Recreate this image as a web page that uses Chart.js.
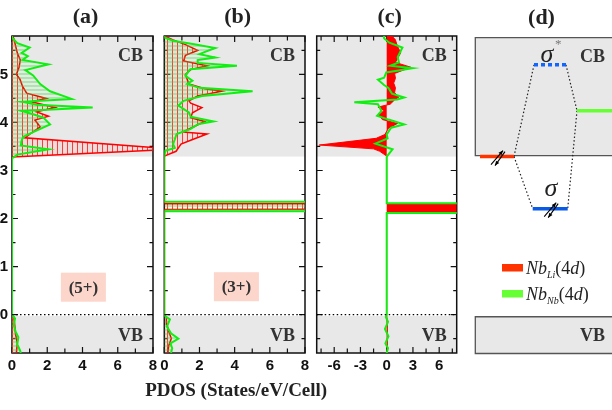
<!DOCTYPE html>
<html><head><meta charset="utf-8">
<script src="https://cdn.jsdelivr.net/npm/chart.js@4/dist/chart.umd.min.js"></script>
<style>
html,body{margin:0;padding:0;background:#fff;overflow:hidden;}
body{width:612px;height:410px;position:relative;}
canvas{position:absolute;left:0;top:0;}
</style></head><body>
<canvas id="panelA" width="612" height="410"></canvas>
<canvas id="panelB" width="612" height="410"></canvas>
<canvas id="panelC" width="612" height="410"></canvas>
<canvas id="panelD" width="612" height="410"></canvas>
<script>
// ---------------- data ----------------
const energyMin = -0.8, energyMax = 5.8;
const yTickValues = [0, 1, 2, 3, 4, 5];
const yMinorValues = [-0.5, 0.5, 1.5, 2.5, 3.5, 4.5, 5.5];
const abTickValues = [0, 2, 4, 6, 8];
const abMinorValues = [1, 3, 5, 7];
const cTickValues = [-6, -3, 0, 3, 6];
const cMinorValues = [-7.5, -4.5, -1.5, 1.5, 4.5, 7.5];
const cbBottom = 3.29, vbTop = -0.03, fermiLevel = 0;
const panelTitles = ['(a)', '(b)', '(c)', '(d)'];
const chargeLabels = ['(5+)', '(3+)'];
const seriesNames = ['Nb_Li(4d)', 'Nb_Nb(4d)'];
const xAxisTitle = 'PDOS (States/eV/Cell)';

// panel (a): energy (eV) / PDOS
const aRedE = [-0.8,-0.6,-0.4,-0.2,-0.05,0, 3.28,3.43,3.46,3.68,3.78,3.91,4.05,4.13,4.22,4.31, 4.43,4.50,4.61,4.75,4.90,5.0,5.15,5.30,5.45,5.6,5.75,5.8];
const aRedD = [0.25,0.3,0.2,0.15,0.1,0, 0,8.6,8.6,0.74,1.1,1.6,1.3,2.07,1.4,2.44, 1.1,1.95,0.83,0.6,0.45,0.25,0.4,0.47,0.3,0.2,0.1,0];
const aGreenE = [-0.8,-0.74,-0.62,-0.47,-0.35,-0.22,-0.08,-0.02,0, 3.25,3.33,3.44,3.52,3.63,3.70,3.80,3.96,4.10,4.17, 4.24,4.31,4.37,4.43,4.49,4.65,4.80,4.98,5.09,5.21, 5.30,5.38,5.45,5.56,5.65,5.75,5.8];
const aGreenD = [0.5,0.45,0.3,0.36,0.2,0.1,0.17,0.05,0, 0,0.3,2.07,0.5,0.55,0.64,1.2,2.16,1.78,1.2, 0.55,4.58,1.4,0.6,3.39,2.16,1.6,1.2,0.76,2.06, 0.6,0.9,0.55,1.0,0.3,0.05,0];

// panel (b)
const bRedE = [-0.8,-0.65,-0.5,-0.35,-0.2,-0.05,0, 2.19,2.195,2.305,2.31, 3.30,3.40,3.55,3.63,3.76,3.80,3.88,4.02,4.10,4.20, 4.31,4.40,4.45,4.55,4.65,4.70,4.80,5.0,5.10,5.18, 5.28,5.40,5.50,5.62,5.72,5.8];
const bRedD = [0.2,0.25,0.4,0.25,0.15,0.12,0, 0,30,30,0, 0,0.67,0.95,1.5,2.43,1.05,1.5,2.3,1.5,1.6, 2.14,1.5,1.4,1.9,3.28,2.3,1.4,1.2,1.5,2.43, 1.1,1.2,1.9,1.2,0.5,0];
const bGreenE = [-0.8,-0.7,-0.6,-0.5,-0.39,-0.25,-0.1,-0.03,0, 2.15,2.155,2.345,2.35, 3.28,3.41,3.47,3.55,3.65,3.76,3.86,3.96,4.02,4.12, 4.21,4.35,4.45,4.55,4.65,4.72,4.80,4.87,4.97,5.11, 5.18,5.24,5.30,5.35,5.42,5.46,5.55,5.63,5.70,5.77, 5.8];
const bGreenD = [0.38,0.45,0.35,0.8,0.38,0.15,0.32,0.04,0, 0,30,30,0, 0,0.05,0.6,0.5,0.6,0.7,1.48,1.9,2.8,1.5, 1.4,0.8,1.1,2.14,5.02,2.0,1.3,1.6,1.2,1.48, 4.13,1.9,1.9,2.9,2.0,2.24,2.9,1.7,0.5,0, 0];

// panel (c)
const cRedE = [-0.8,-0.5,-0.2,0, 2.125,2.13,2.305,2.31, 3.30,3.40,3.45,3.53,3.67,3.75,3.88,3.98,4.06,4.15, 4.25,4.32,4.38,4.47,4.53,4.62,4.72,4.82,4.92,5.02, 5.15,5.25,5.45,5.60,5.72,5.8];
const cRedD = [0.05,0.1,0.05,0, 0,30,30,0, 0,-0.8,-1.5,-7.7,-1.2,-0.2,0.2,1.24,-0.5,-0.9, -0.3,-1.0,0.4,0.9,1.4,0.9,1.0,0.8,1.0,0.9, 2.76,1.0,1.6,1.2,1.0,0.6];
const cGreenE = [-0.8,-0.7,-0.6,-0.45,-0.3,-0.15,-0.05,0, 2.115,2.12,2.315,2.32, 3.28,3.30,3.44,3.56,3.67,3.75,3.89,3.96,4.06,4.14, 4.24,4.38,4.42,4.48,4.52,4.60,4.72,4.78,4.89,4.93, 5.04,5.13,5.18,5.25,5.36,5.45,5.56,5.66,5.75,5.8];
const cGreenD = [0,0.15,-0.15,0.2,-0.2,0.15,-0.1,0, 0,30,30,0, 0,0.05,0.67,-1.3,0.1,0,0.5,2.0,0.2,-1.1, -0.6,-1.0,-3.7,1.2,2.0,0.6,0.2,-0.3,-1.0,-0.3, -0.05,2.95,0.4,1.4,1.25,1.5,1.8,0.3,-0.3,-0.3];

// panel (d): energy-level scheme
const levelNames = ['NbLi', 'sigmaStar', 'NbNb', 'sigma'];
const levelEnergy = [3.29, 5.20, 4.245, 2.205];
const levelStart = [0.47, 5.87, 10.17, 5.74];
const levelEnd = [3.87, 9.07, 14.5, 9.24];
const levelLinks = [[0,'end',1,'start'], [0,'end',3,'start'], [1,'end',2,'start'], [2,'start',3,'end']];
const dCbBox = [3.31, 5.765];
const dVbBox = [-0.81, -0.045];

// ---------------- styling helpers ----------------
const SERIF = '"Liberation Serif", "Times New Roman", serif';
const SANS = '"Liberation Sans", Arial, sans-serif';
const RED = '#ff0000', GREEN = '#11ee11';

function pts(E, D) { return E.map((e, i) => ({ x: D[i], y: e })); }

function hatch(dir, color, gap, lw, bg) {
  const c = document.createElement('canvas');
  c.width = gap; c.height = gap;
  const g = c.getContext('2d');
  if (bg) { g.fillStyle = bg; g.fillRect(0, 0, gap, gap); }
  g.strokeStyle = color; g.lineWidth = lw;
  g.beginPath();
  if (dir === 'v') { g.moveTo(gap / 2, 0); g.lineTo(gap / 2, gap); }
  else { g.moveTo(0, gap / 2); g.lineTo(gap, gap / 2); }
  g.stroke();
  return g.createPattern(c, 'repeat');
}
const redHatch = hatch('v', 'rgba(255,30,30,0.85)', 5, 1, 'rgba(255,170,170,0.18)');
const greenHatch = hatch('h', 'rgba(40,225,40,0.55)', 4, 1.2, null);

function drawFrameTicks(chart, xMajor, xMinor) {
  const { ctx, chartArea: a, scales: { x, y } } = chart;
  ctx.save();
  ctx.strokeStyle = '#111';
  ctx.lineWidth = 1.2;
  ctx.beginPath();
  const tx = (vals, len) => vals.forEach(v => {
    const p = x.getPixelForValue(v);
    ctx.moveTo(p, a.bottom); ctx.lineTo(p, a.bottom - len);
    ctx.moveTo(p, a.top); ctx.lineTo(p, a.top + len);
  });
  const ty = (vals, len) => vals.forEach(v => {
    const p = y.getPixelForValue(v);
    ctx.moveTo(a.left, p); ctx.lineTo(a.left + len, p);
    ctx.moveTo(a.right, p); ctx.lineTo(a.right - len, p);
  });
  tx(xMajor, 6); tx(xMinor, 4.5); ty(yTickValues, 6); ty(yMinorValues, 3.5);
  ctx.stroke();
  ctx.lineWidth = 1.5;
  ctx.strokeRect(a.left, a.top, a.right - a.left, a.bottom - a.top);
  ctx.restore();
}

function pdosDeco(p) {
  return {
    id: 'deco' + p.id,
    beforeDatasetsDraw(chart) {
      const { ctx, chartArea: a, scales: { x, y } } = chart;
      ctx.save();
      ctx.fillStyle = '#e8e8e8';
      const yCb = y.getPixelForValue(cbBottom);
      ctx.fillRect(a.left, a.top, a.right - a.left, yCb - a.top);
      const yVb = y.getPixelForValue(vbTop);
      ctx.fillRect(a.left, yVb, a.right - a.left, a.bottom - yVb);
      if (p.charge) {
        const cx = x.getPixelForValue(p.chargeAt[0]);
        const cy = y.getPixelForValue(p.chargeAt[1]);
        ctx.fillStyle = '#fcd5cb';
        ctx.fillRect(cx - 22.5, cy - 14.5, 45, 29);
        ctx.fillStyle = '#333';
        ctx.font = 'bold 17px ' + SERIF;
        ctx.textAlign = 'center'; ctx.textBaseline = 'middle';
        ctx.fillText(p.charge, cx, cy + 1);
      }
      ctx.restore();
      drawFrameTicks(chart, p.major, p.minor);
    },
    afterDatasetsDraw(chart) {
      const { ctx, chartArea: a } = chart;
      ctx.save();
      ctx.fillStyle = '#333';
      ctx.font = 'bold 18px ' + SERIF;
      ctx.textAlign = 'right'; ctx.textBaseline = 'middle';
      ctx.fillText('CB', a.right - 10, a.top + 20);
      ctx.fillText('VB', a.right - 10, a.bottom - 17);
      ctx.fillStyle = '#222';
      ctx.font = 'bold 22px ' + SERIF;
      ctx.textAlign = 'center';
      ctx.fillText(p.title, (a.left + a.right) / 2 + 3, 17);
      if (p.axisTitle) {
        ctx.font = 'bold 19px ' + SERIF;
        ctx.fillText(xAxisTitle, (a.left + a.right) / 2 + 1.5, a.bottom + 38);
      }
      ctx.restore();
    }
  };
}

const panels = [
  { id: 'panelA', left: 12, right: 153, xMin: 0, xMax: 8, major: abTickValues, minor: abMinorValues,
    title: panelTitles[0], charge: chargeLabels[0], chargeAt: [4.05, 0.57], showY: true, axisTitle: false,
    red: pts(aRedE, aRedD), green: pts(aGreenE, aGreenD), solid: false },
  { id: 'panelB', left: 164.3, right: 305, xMin: 0, xMax: 8, major: abTickValues, minor: abMinorValues,
    title: panelTitles[1], charge: chargeLabels[1], chargeAt: [4.1, 0.58], showY: false, axisTitle: true,
    red: pts(bRedE, bRedD), green: pts(bGreenE, bGreenD), solid: false },
  { id: 'panelC', left: 316.7, right: 456.7, xMin: -8, xMax: 8, major: cTickValues, minor: cMinorValues,
    title: panelTitles[2], charge: null, showY: false, axisTitle: false,
    red: pts(cRedE, cRedD), green: pts(cGreenE, cGreenD), solid: true }
];

panels.forEach(p => {
  new Chart(document.getElementById(p.id), {
    type: 'line',
    data: {
      datasets: [
        { label: seriesNames[0], data: p.red, borderColor: RED, borderWidth: p.solid ? 1 : 1.5,
          backgroundColor: p.solid ? RED : redHatch, fill: 'origin', pointRadius: 0, tension: 0, order: 2 },
        { label: seriesNames[1], data: p.green, borderColor: GREEN, borderWidth: 2,
          backgroundColor: greenHatch, fill: p.solid ? false : 'origin', pointRadius: 0, tension: 0, order: 1 },
        { label: 'EF', data: [{ x: p.xMin, y: fermiLevel }, { x: p.xMax, y: fermiLevel }], borderColor: '#000',
          borderWidth: 1.2, borderDash: [1.5, 2.5], fill: false, pointRadius: 0, order: 0 }
      ]
    },
    options: {
      responsive: false, animation: false, indexAxis: 'y',
      layout: { padding: { left: p.showY ? 0 : p.left, right: 612 - p.right, top: 36, bottom: 0 } },
      plugins: { legend: { display: false }, tooltip: { enabled: false } },
      scales: {
        x: {
          type: 'linear', position: 'bottom', min: p.xMin, max: p.xMax,
          afterBuildTicks: s => { s.ticks = p.major.map(v => ({ value: v })); },
          afterFit: s => { s.height = 57; },
          grid: { display: false, drawTicks: false },
          border: { display: false },
          ticks: { font: { family: SANS, size: 15, weight: 'bold' }, color: '#111', padding: 4, autoSkip: false, maxRotation: 0 }
        },
        y: {
          type: 'linear', position: 'left', min: energyMin, max: energyMax, display: p.showY,
          afterBuildTicks: s => { s.ticks = yTickValues.map(v => ({ value: v })); },
          afterFit: s => { s.width = p.showY ? p.left : 0; },
          grid: { display: false, drawTicks: false },
          border: { display: false },
          ticks: { font: { family: SANS, size: 15, weight: 'bold' }, color: '#111', padding: 4 }
        }
      }
    },
    plugins: [pdosDeco(p)]
  });
});

// ---------------- panel (d) ----------------
const levelColors = ['#ff3300', '#1166ff', '#66ff33', '#0a5ae8'];
const levelDash = [[], [4, 3], [], []];
const endX = (i, which) => which === 'end' ? levelEnd[i] : levelStart[i];

const dDatasets = [];
levelLinks.forEach(l => {
  dDatasets.push({ data: [{ x: endX(l[0], l[1]), y: levelEnergy[l[0]] }, { x: endX(l[2], l[3]), y: levelEnergy[l[2]] }],
    showLine: true, borderColor: '#222', borderWidth: 1.2, borderDash: [1.5, 2.2], pointRadius: 0, order: 2 });
});
levelNames.forEach((n, i) => {
  dDatasets.push({ label: n, data: [{ x: levelStart[i], y: levelEnergy[i] }, { x: levelEnd[i], y: levelEnergy[i] }],
    showLine: true, borderColor: levelColors[i], borderWidth: 3.5, borderDash: levelDash[i], pointRadius: 0, order: 1 });
});

function spinPair(ctx, cx, cy) {
  ctx.save();
  ctx.strokeStyle = '#000'; ctx.fillStyle = '#000'; ctx.lineWidth = 1.1;
  const arrow = (x0, y0, x1, y1) => {
    ctx.beginPath(); ctx.moveTo(x0, y0); ctx.lineTo(x1, y1); ctx.stroke();
    const ang = Math.atan2(y1 - y0, x1 - x0), h = 5;
    ctx.beginPath();
    ctx.moveTo(x1, y1);
    ctx.lineTo(x1 - h * Math.cos(ang - 0.4), y1 - h * Math.sin(ang - 0.4));
    ctx.lineTo(x1 - h * Math.cos(ang + 0.4), y1 - h * Math.sin(ang + 0.4));
    ctx.closePath(); ctx.fill();
  };
  arrow(cx - 6, cy + 8, cx + 6, cy - 6);
  arrow(cx + 8, cy - 5, cx - 2, cy + 9);
  ctx.restore();
}

function richText(ctx, x, y, parts) {
  let cx = x;
  parts.forEach(([t, f, dy]) => { ctx.font = f; ctx.fillText(t, cx, y + (dy || 0)); cx += ctx.measureText(t).width; });
}

const dDeco = {
  id: 'decoD',
  beforeDatasetsDraw(chart) {
    const { ctx, chartArea: a, scales: { x, y } } = chart;
    ctx.save();
    const box = (e0, e1) => {
      const top = y.getPixelForValue(e1), bot = y.getPixelForValue(e0);
      ctx.fillStyle = '#e8e8e8';
      ctx.fillRect(a.left, top, 200, bot - top);
      ctx.strokeStyle = '#555'; ctx.lineWidth = 1.3;
      ctx.beginPath();
      ctx.moveTo(a.left + 200, top); ctx.lineTo(a.left, top); ctx.lineTo(a.left, bot); ctx.lineTo(a.left + 200, bot);
      ctx.stroke();
    };
    box(dCbBox[0], dCbBox[1]);
    box(dVbBox[0], dVbBox[1]);
    ctx.fillStyle = '#222';
    ctx.font = 'bold 22px ' + SERIF;
    ctx.textAlign = 'center'; ctx.textBaseline = 'middle';
    ctx.fillText(panelTitles[3], 541.5, 18);
    ctx.fillStyle = '#333';
    ctx.font = 'bold 18px ' + SERIF;
    ctx.textAlign = 'right';
    ctx.fillText('CB', 605, y.getPixelForValue(5.36));
    ctx.fillText('VB', 605, y.getPixelForValue(-0.45));
    ctx.restore();
  },
  afterDatasetsDraw(chart) {
    const { ctx, chartArea: a, scales: { x, y } } = chart;
    ctx.save();
    spinPair(ctx, x.getPixelForValue((levelStart[0] + levelEnd[0]) / 2), y.getPixelForValue(levelEnergy[0]));
    spinPair(ctx, x.getPixelForValue((levelStart[3] + levelEnd[3]) / 2), y.getPixelForValue(levelEnergy[3]));
    ctx.fillStyle = '#222';
    ctx.textAlign = 'center'; ctx.textBaseline = 'alphabetic';
    ctx.font = 'italic 26px ' + SERIF;
    ctx.fillText('σ', x.getPixelForValue(7.17), y.getPixelForValue(5.26));
    ctx.fillText('σ', x.getPixelForValue(7.57), y.getPixelForValue(2.46));
    ctx.font = '13px ' + SERIF;
    ctx.fillStyle = '#777';
    ctx.fillText('*', x.getPixelForValue(8.3), y.getPixelForValue(5.55));
    // legend
    const lx = a.left + 26.7;
    ctx.fillStyle = '#ff3300'; ctx.fillRect(lx, 264, 21, 7.5);
    ctx.fillStyle = '#66ff33'; ctx.fillRect(lx, 290, 21, 7.5);
    ctx.fillStyle = '#222'; ctx.textAlign = 'left';
    const it = 'italic 18px ' + SERIF, rm = '18px ' + SERIF, sub = 'italic 10px ' + SERIF;
    richText(ctx, lx + 24, 274, [['Nb', it], ['Li', sub, 4], ['(', rm], ['4', rm], ['d', it], [')', rm]]);
    richText(ctx, lx + 24, 300, [['Nb', it], ['Nb', sub, 4], ['(', rm], ['4', rm], ['d', it], [')', rm]]);
    ctx.restore();
  }
};

new Chart(document.getElementById('panelD'), {
  type: 'scatter',
  data: { datasets: dDatasets },
  options: {
    responsive: false, animation: false,
    layout: { padding: { left: 475.3, right: 0, top: 36, bottom: 57 } },
    plugins: { legend: { display: false }, tooltip: { enabled: false } },
    scales: {
      x: { type: 'linear', min: 0, max: 13.67, display: false },
      y: { type: 'linear', min: energyMin, max: energyMax, display: false }
    }
  },
  plugins: [dDeco]
});
</script></body></html>
